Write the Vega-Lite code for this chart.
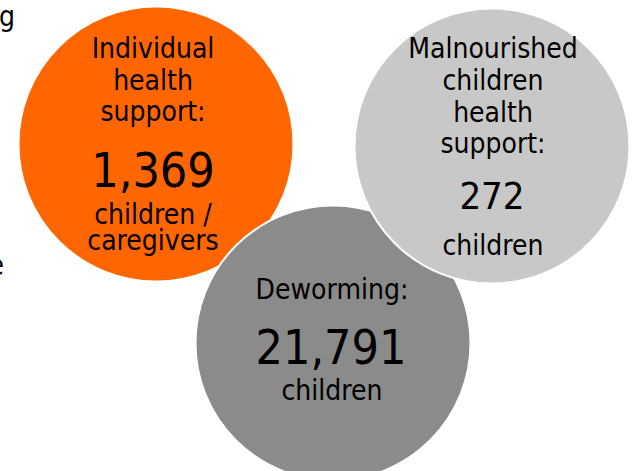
{
  "$schema": "https://vega.github.io/schema/vega-lite/v6.json",
  "width": 632,
  "height": 471,
  "padding": 0,
  "autosize": {"type": "none"},
  "background": "#ffffff",
  "config": {"view": {"stroke": null}},
  "datasets": {
    "circles": [
      {"name": "Individual health support", "cx": 156, "cy": 144, "color": "#FF6600"},
      {"name": "Deworming", "cx": 333, "cy": 343, "color": "#8B8B8B"},
      {"name": "Malnourished children health support", "cx": 492, "cy": 146, "color": "#C8C8C8"}
    ],
    "labels": [
      {"text": "Individual", "x": 153, "y": 58, "role": "label"},
      {"text": "health", "x": 153, "y": 90, "role": "label"},
      {"text": "support:", "x": 153, "y": 121, "role": "label"},
      {"text": "1,369", "x": 153, "y": 187, "role": "big"},
      {"text": "children /", "x": 153, "y": 224, "role": "label"},
      {"text": "caregivers", "x": 153, "y": 250, "role": "label"},
      {"text": "Malnourished", "x": 493, "y": 58, "role": "label"},
      {"text": "children", "x": 493, "y": 90, "role": "label"},
      {"text": "health", "x": 493, "y": 122, "role": "label"},
      {"text": "support:", "x": 493, "y": 153, "role": "label"},
      {"text": "272", "x": 492, "y": 209, "role": "medium"},
      {"text": "children", "x": 493, "y": 255, "role": "label"},
      {"text": "Deworming:", "x": 332, "y": 299, "role": "label"},
      {"text": "21,791", "x": 331, "y": 364, "role": "big"},
      {"text": "children", "x": 332, "y": 400, "role": "label"}
    ],
    "fragments": [
      {"text": "g", "x": 15, "y": 26},
      {"text": "e", "x": 4, "y": 275}
    ]
  },
  "layer": [
    {
      "data": {"name": "circles"},
      "mark": {"type": "point", "shape": "circle", "filled": true, "opacity": 1, "size": 75625, "stroke": "#ffffff", "strokeWidth": 2, "strokeOpacity": 1},
      "encoding": {
        "x": {"field": "cx", "type": "quantitative", "scale": {"domain": [0, 632], "nice": false, "zero": false}, "axis": null},
        "y": {"field": "cy", "type": "quantitative", "scale": {"domain": [0, 471], "nice": false, "zero": false, "reverse": true}, "axis": null},
        "fill": {"field": "color", "type": "nominal", "scale": null, "legend": null}
      }
    },
    {
      "data": {"name": "labels"},
      "mark": {"type": "text", "align": "center", "baseline": "alphabetic", "font": "DejaVu Sans Condensed", "color": "#000000"},
      "encoding": {
        "x": {"field": "x", "type": "quantitative"},
        "y": {"field": "y", "type": "quantitative"},
        "text": {"field": "text"},
        "size": {"field": "role", "type": "nominal", "scale": {"domain": ["label", "medium", "big"], "range": [28, 48, 52]}, "legend": null}
      }
    },
    {
      "data": {"name": "fragments"},
      "mark": {"type": "text", "align": "right", "baseline": "alphabetic", "font": "DejaVu Sans Condensed", "fontSize": 28, "color": "#000000", "clip": true},
      "encoding": {
        "x": {"field": "x", "type": "quantitative"},
        "y": {"field": "y", "type": "quantitative"},
        "text": {"field": "text"}
      }
    }
  ]
}
